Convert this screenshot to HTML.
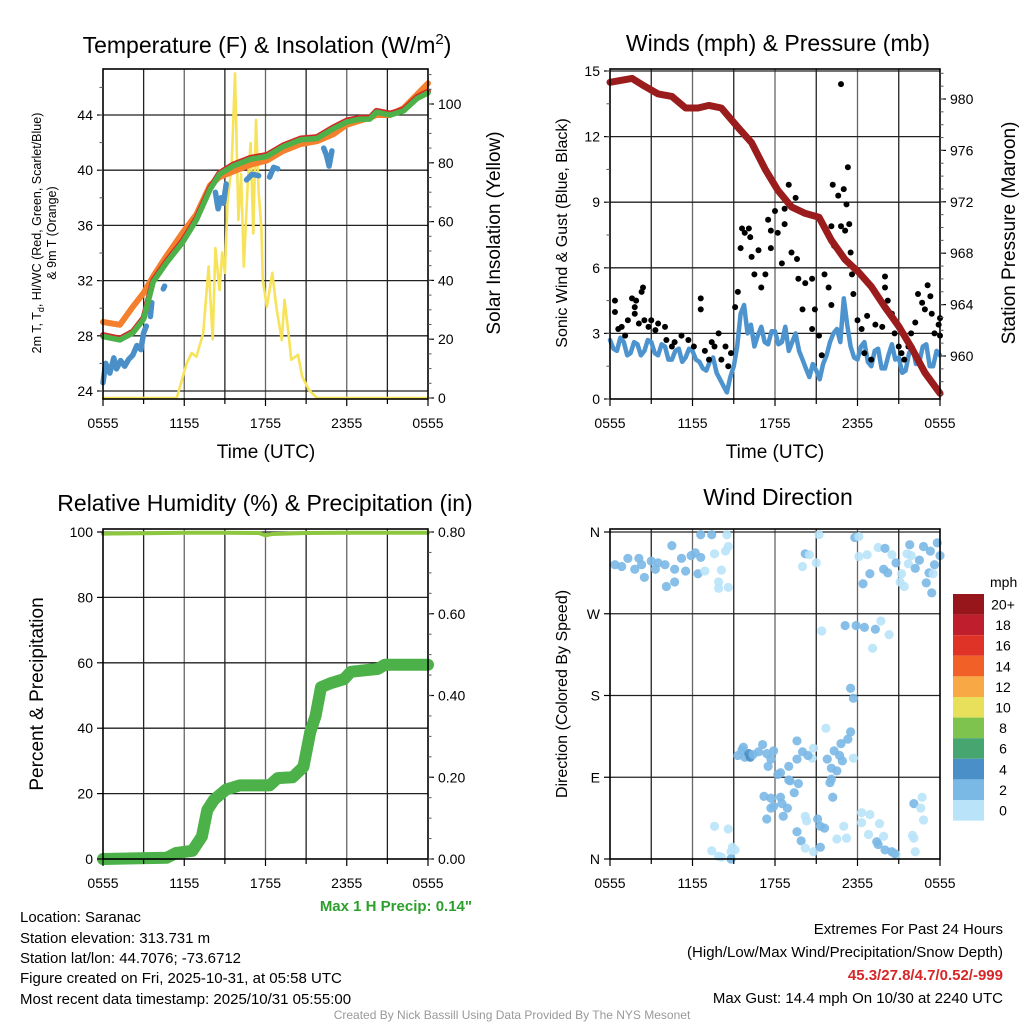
<!DOCTYPE html>
<html><head><meta charset="utf-8">
<style>
html,body{margin:0;padding:0;background:#fff;}
svg{display:block;font-family:"Liberation Sans",Arial,sans-serif;}
</style></head>
<body>
<svg id="c" width="1024" height="1024" viewBox="0 0 1024 1024">
<g id="grid"></g><g id="marks"></g><g id="axes"></g>
<g id="texts" font-family="Liberation Sans, Arial, sans-serif">
<text x="267" y="53" font-size="23" text-anchor="middle">Temperature (F) &amp; Insolation (W/m<tspan dy="-9" font-size="15">2</tspan><tspan dy="9">)</tspan></text>
<text x="778" y="51" font-size="23" text-anchor="middle">Winds (mph) &amp; Pressure (mb)</text>
<text x="265" y="511" font-size="23" text-anchor="middle">Relative Humidity (%) &amp; Precipitation (in)</text>
<text x="778" y="505" font-size="23" text-anchor="middle">Wind Direction</text>
<text x="266" y="458" font-size="19" text-anchor="middle">Time (UTC)</text>
<text x="775" y="458" font-size="19" text-anchor="middle">Time (UTC)</text>
<text transform="translate(41,233) rotate(-90)" font-size="12.5" text-anchor="middle">2m T, T<tspan dy="3" font-size="9">d</tspan><tspan dy="-3">, HI/WC (Red, Green, Scarlet/Blue)</tspan></text>
<text transform="translate(56,233) rotate(-90)" font-size="12.5" text-anchor="middle">&amp; 9m T (Orange)</text>
<text transform="translate(500,233) rotate(-90)" font-size="19" text-anchor="middle">Solar Insolation (Yellow)</text>
<text transform="translate(567,233) rotate(-90)" font-size="16" text-anchor="middle">Sonic Wind &amp; Gust (Blue, Black)</text>
<text transform="translate(1015,233) rotate(-90)" font-size="19" text-anchor="middle">Station Pressure (Maroon)</text>
<text transform="translate(43,694) rotate(-90)" font-size="19" text-anchor="middle">Percent &amp; Precipitation</text>
<text transform="translate(567,694) rotate(-90)" font-size="16" text-anchor="middle">Direction (Colored By Speed)</text>
<text x="472" y="911" font-size="15" font-weight="bold" fill="#2ca02c" text-anchor="end">Max 1 H Precip: 0.14"</text>
<g font-size="15">
<text x="20" y="922">Location: Saranac</text>
<text x="20" y="943">Station elevation: 313.731 m</text>
<text x="20" y="963">Station lat/lon: 44.7076; -73.6712</text>
<text x="20" y="983">Figure created on Fri, 2025-10-31, at 05:58 UTC</text>
<text x="20" y="1004">Most recent data timestamp: 2025/10/31 05:55:00</text>
</g>
<g font-size="15" text-anchor="end">
<text x="1003" y="934">Extremes For Past 24 Hours</text>
<text x="1003" y="957">(High/Low/Max Wind/Precipitation/Snow Depth)</text>
<text x="1003" y="980" font-weight="bold" fill="#d62728">45.3/27.8/4.7/0.52/-999</text>
<text x="1003" y="1003">Max Gust: 14.4 mph On 10/30 at 2240 UTC</text>
</g>
<text x="512" y="1019" font-size="12" fill="#999" text-anchor="middle">Created By Nick Bassill Using Data Provided By The NYS Mesonet</text>
</g>
</svg>
<script>
// ---------- DATA ----------
const xTickLabels = ["0555","1155","1755","2355","0555"];
// Temperature panel
const tempHours = [0,1.25,2.2,3.0,3.7,4.7,5.9,6.9,7.9,8.6,9.6,10.9,12.1,13.3,14.6,15.8,17.0,18.0,19.0,19.7,20.2,21.2,22.2,23.2,24];
const temp2m    = [27.95,27.7,28.2,29.2,31.9,33.3,34.8,36.4,38.6,39.7,40.3,40.8,41.0,41.7,42.2,42.3,43.0,43.5,43.7,43.7,44.2,44.0,44.3,45.2,45.6];
const temp9m    = [29.0,28.8,30.1,31.1,32.3,33.8,35.5,36.8,38.9,39.5,39.9,40.4,40.7,41.4,41.9,42.1,42.6,43.3,43.6,43.8,44.0,44.0,44.5,45.5,46.3];
const heatIndex = [28.05,27.8,28.3,29.3,32.0,33.4,34.9,36.5,38.7,39.8,40.4,40.9,41.1,41.8,42.3,42.4,43.1,43.6,43.8,43.8,44.3,44.1,44.4,45.3,45.7];
const dewHours  = [0,0.2,0.5,0.8,1.0,1.3,1.6,1.9,2.2,2.5,2.8,3.0,3.2,null,3.5,3.6,null,4.45,4.55,null,8.3,8.5,8.7,8.9,9.1,null,10.6,11.0,11.5,null,12.3,12.6,12.9,null,16.3,16.5,16.7,16.9];
const dewPoint  = [24.6,26.0,25.3,26.4,25.6,26.2,25.8,26.3,26.6,27.3,27.0,28.2,28.7,null,29.4,30.4,null,31.4,31.6,null,38.4,37.2,38.0,37.6,39.0,null,39.3,39.7,39.6,null,39.5,40.2,40.1,null,41.6,41.1,40.3,41.4];
const solarHours = [0,5.44,6.18,6.55,6.9,7.4,7.8,8.1,8.3,8.6,8.8,9.0,9.2,9.5,9.75,10.0,10.2,10.4,10.7,10.9,11.1,11.3,11.5,11.7,11.8,12.1,12.5,12.8,13.2,13.4,13.7,13.9,14.4,14.7,15.2,15.8,24];
const solarWm2   = [0,0,11.8,15.3,14,22,44.7,20,51,36.7,49.5,42.6,67.3,78.7,110.4,60.5,76.2,44.7,74,86.7,56,94.6,69.6,58,40,31,42.6,31,19.7,33.4,22,13,14.7,7.4,2.8,0,0];
const tempTicks = [24,28,32,36,40,44];
const solarTicks = [0,20,40,60,80,100];
// Winds panel
const windHours = [0,0.25,0.5,0.75,1,1.25,1.5,1.75,2,2.25,2.5,2.75,3,3.25,3.5,3.75,4,4.25,4.5,4.75,5,5.25,5.5,5.75,6,6.25,6.5,6.75,7,7.25,7.5,7.75,8,8.25,8.5,8.75,9,9.25,9.5,9.75,10,10.25,10.5,10.75,11,11.25,11.5,11.75,12,12.25,12.5,12.75,13,13.25,13.5,13.75,14,14.25,14.5,14.75,15,15.25,15.5,15.75,16,16.25,16.5,16.75,17,17.25,17.5,17.75,18,18.25,18.5,18.75,19,19.25,19.5,19.75,20,20.25,20.5,20.75,21,21.25,21.5,21.75,22,22.25,22.5,22.75,23,23.25,23.5,23.75,24];
const windSpeed = [2.7,2.3,2.2,2.8,2.6,2.0,2.1,2.6,2.5,2.0,2.2,2.7,2.6,2.1,2.0,2.5,2.4,1.8,1.8,2.2,2.3,1.7,1.9,2.3,2.2,1.8,1.7,1.4,1.3,1.7,1.9,1.2,0.9,0.6,0.3,1.0,1.5,2.4,3.9,4.3,3.0,3.4,2.4,2.9,3.3,2.6,2.5,3.1,3.1,2.5,2.6,3.3,2.2,2.6,3.0,2.2,1.8,1.4,1.0,1.6,1.3,0.9,1.6,2.0,2.6,3.0,3.2,2.6,4.6,3.4,2.4,1.9,1.8,2.4,2.6,1.7,1.5,2.2,2.3,1.4,1.4,2.0,2.5,1.8,1.9,1.2,1.3,2.1,2.4,1.6,1.7,2.4,2.5,1.5,1.5,2.2,2.0];
const gustHours = [0.36,0.36,0.6,0.85,1.1,1.3,1.6,1.8,1.9,1.8,2.1,2.3,2.4,2.5,2.8,3.0,3.3,3.5,4.0,4.1,4.5,4.7,5.2,5.7,6.1,6.6,6.6,6.9,7.2,7.4,7.6,7.9,8.1,8.4,8.6,8.8,9.1,9.3,9.5,9.6,9.8,10.1,10.2,10.3,10.5,10.8,11.0,11.3,11.5,11.7,11.7,12.0,12.2,12.5,12.7,12.7,13.0,13.5,13.2,13.6,13.7,14.2,14.0,14.7,14.7,14.9,15.2,15.4,15.6,15.9,16.1,16.1,16.2,16.3,16.6,16.8,16.8,17.0,17.1,17.2,17.3,17.4,17.5,17.6,17.7,18.0,18.3,18.5,18.7,19.0,19.3,19.8,20.0,20.0,20.2,20.5,20.7,21.0,21.2,21.4,21.7,21.9,22.2,22.4,22.7,22.9,23.1,23.3,23.4,23.6,23.9,24.0,24.0];
const gustSpeed = [4.5,3.98,3.2,3.3,2.9,3.6,4.6,4.2,4.5,3.9,3.45,4.9,5.1,3.6,3.3,3.6,3.15,3.45,3.3,2.7,2.4,2.6,2.9,2.7,2.4,4.6,4.1,2.2,1.8,2.6,2.4,3.0,1.8,2.4,1.5,2.1,4.2,4.9,6.9,7.8,7.6,7.8,7.4,6.5,5.7,6.8,5.1,5.7,8.2,7.7,6.9,8.6,7.6,6.2,8.0,8.7,9.8,9.2,6.7,6.4,5.5,5.3,4.1,5.5,3.2,4.1,2.9,2.0,5.7,5.1,4.3,7.9,9.8,7.0,9.3,14.4,7.9,9.6,7.7,8.9,10.6,8.0,6.7,5.7,4.8,3.6,3.2,2.1,3.8,1.8,3.4,3.3,5.6,5.1,4.5,3.9,3.0,2.4,2.1,1.8,2.4,3.0,3.5,4.8,4.4,4.1,5.2,4.7,3.9,3.0,3.4,2.9,3.7];
const presHours = [0,1.6,2.5,3.5,4.5,5.5,6.4,7.2,8.1,9.3,10.3,11.3,12.2,13.2,14.2,15.2,16.1,17.1,18.1,19.0,20.0,21.0,21.9,22.9,24];
const presMb    = [981.3,981.6,981.0,980.4,980.2,979.3,979.3,979.5,979.3,977.8,976.6,974.5,972.9,971.6,971.1,970.8,969.0,967.5,966.5,965.4,963.8,962.3,960.7,958.7,957.1];
const windTicks = [0,3,6,9,12,15];
const presTicks = [960,964,968,972,976,980];
// Humidity / precip panel
const rhHours = [0,3,6,9,11.5,12,12.5,15,18,21,24];
const rhPct   = [99.5,99.6,99.8,99.8,99.7,99.0,99.4,99.7,99.8,99.8,99.8];
const pcpHours = [0,4.7,5.4,6.6,7.3,7.7,8.2,9.1,10.1,12.3,12.9,14.0,14.8,15.3,15.7,16.1,16.8,17.8,18.3,20.3,20.8,24];
const pcpInch  = [0,0.003,0.015,0.02,0.055,0.12,0.145,0.17,0.18,0.18,0.198,0.2,0.225,0.31,0.35,0.42,0.43,0.44,0.458,0.465,0.475,0.475];
const rhTicks = [0,20,40,60,80,100];
const pcpTicks = [0,0.2,0.4,0.6,0.8];
const pcpTickLabels = ["0.00","0.20","0.40","0.60","0.80"];
// Wind direction panel
const dirHours = [0.36,0.85,1.3,1.8,2.1,2.3,2.5,3.0,3.3,3.5,4.0,4.1,4.5,4.7,4.7,5.2,5.5,5.9,6.2,6.4,6.6,6.6,6.9,7.4,7.6,7.9,7.9,8.1,8.4,8.5,8.6,8.6,14.2,14.0,14.5,15.2,15.0,15.4,17.1,17.8,17.9,18.1,18.1,18.4,18.5,18.7,18.9,19.3,19.5,19.7,19.9,20.0,20.2,20.5,20.8,21.1,21.2,21.4,21.6,21.7,21.8,21.9,22.2,22.5,22.8,23.0,23.2,23.3,23.4,23.5,23.6,23.8,24.0,20.3,19.1,17.5,17.7,17.5,17.3,16.8,16.7,16.9,16.3,15.8,16.1,16.5,16.0,16.1,16.2,17.7,15.7,14.8,13.6,14.7,14.4,14.0,13.6,9.3,9.6,9.8,10.1,9.7,10.2,10.4,10.8,11.1,11.4,11.5,11.7,11.9,12.2,12.4,13.0,13.0,13.7,13.1,13.4,12.4,11.9,11.4,11.7,11.2,11.7,12.9,12.5,12.6,13.6,13.9,14.2,14.2,14.3,14.8,15.1,15.3,15.6,15.3,16.5,17.0,17.2,18.3,18.9,18.8,19.4,19.5,19.6,19.9,20.0,20.5,20.8,20.7,22.0,22.1,22.2,22.1,22.6,22.7,22.8,18.3,9.1,8.8,8.9,8.6,7.9,7.4,8.1,8.8,7.6,8.2,10.7];
const dirDeg   = [324,322,331,319,331,324,310,328,319,326,324,300,345,319,305,331,317,334,337,314,332,357,317,357,336,305,298,318,339,357,299,344,336,322,335,357,326,251,257,354,257,355,333,303,255,335,314,253,343,262,319,342,315,335,326,305,314,300,336,325,346,334,320,329,344,304,315,339,293,314,324,348,334,247,232,188,177,140,132,127,114,108,119,110,100,97,84,88,68,111,144,122,130,111,114,118,110,114,120,112,116,123,112,115,118,126,116,102,110,119,93,95,87,102,83,86,73,68,58,44,56,69,67,56,61,47,30,20,12,47,42,8,44,36,34,13,22,36,23,51,49,27,19,16,39,25,10,8,5,6,26,23,8,61,56,68,43,40,10,8,13,33,3,9,2,0,36];
const dirSpeed = [2.6,2.6,2.6,2.6,2.6,2.6,2.6,2.6,2.6,2.6,2.6,3.6,2.6,3.6,2.6,2.6,2.6,2.6,2.6,2.6,2.6,2.6,1.2,2.6,1.2,1.2,1.2,1.2,1.2,1.2,1.2,1.2,2.6,1.2,1.2,1.2,1.2,1.2,2.6,2.6,2.6,1.2,1.2,2.6,2.6,1.2,2.6,2.6,1.2,1.2,2.6,2.6,2.6,1.2,2.6,1.2,1.2,1.2,1.2,1.2,2.6,1.2,2.6,2.6,2.6,2.6,2.6,3.6,2.6,1.2,2.6,3.6,2.6,1.2,1.2,2.6,2.6,2.6,2.6,3.6,3.6,3.6,2.6,3.6,2.6,2.6,2.6,2.6,2.6,1.2,1.2,1.2,2.6,1.2,2.6,2.6,2.6,3.6,3.6,3.6,4.3,3.6,4.3,2.6,2.6,2.6,2.6,2.6,2.6,2.6,2.6,2.6,2.6,2.6,2.6,2.6,2.6,2.6,2.6,2.6,2.6,2.6,2.6,2.6,2.6,2.6,2.6,2.6,1.2,1.2,1.2,1.2,2.6,3.6,2.6,2.6,1.2,1.2,1.2,1.2,1.2,1.2,2.6,2.6,1.2,1.2,2.6,2.6,1.2,2.6,1.2,1.2,1.2,2.6,1.2,1.2,1.2,1.2,1.2,1.2,1.2,1.2,1.2,1.2,1.2,2.6,1.2,1.2,1.2,1.2,1.2,1.2];
const dirLabels = ["N","E","S","W","N"];
const dirTicks = [0,90,180,270,360];
const cbLabels = ["20+","18","16","14","12","10","8","6","4","2","0"];
const cbColors = ["#96161c","#bf1e2d","#e03327","#f16127","#f8a844","#e8e05a","#7ec34d","#47a66f","#4a8fc7","#7ab8e5","#b9e3f8"];

// ---------- RENDER ----------
const NS = "http://www.w3.org/2000/svg";
const gGrid = document.getElementById('grid'), gMarks = document.getElementById('marks'), gAxes = document.getElementById('axes');
function mk(tag, attrs, parent){ const e=document.createElementNS(NS,tag); for(const k in attrs) e.setAttribute(k,attrs[k]); parent.appendChild(e); return e; }
function scale(d0,d1,r0,r1){ return v => r0 + (v-d0)*(r1-r0)/(d1-d0); }

const P = {
  temp:{x0:103,x1:428,y0:69,y1:399},
  wind:{x0:610,x1:940,y0:69,y1:399},
  rh:{x0:103,x1:428,y0:529,y1:859},
  dir:{x0:610,x1:940,y0:529,y1:859}
};
const sx = {}; for (const k in P) sx[k] = scale(0,24,P[k].x0,P[k].x1);
const yT = scale(24,44,391,115), yW = scale(0,100,398,104);
const yV = scale(0,15,399,71), yP = scale(960,980,356,99);
const yR = scale(0,100,859,532), yPc = scale(0,0.8,859,532);
const yD = scale(0,360,859,532);

function frame(key, hTicksPix, name){
  const p=P[key];
  for(let i=1;i<8;i++){ const x=sx[key](i*3);
    const l=mk('line',{x1:x,x2:x,y1:p.y0,y2:p.y1,stroke:(i%2? '#222':'#666'),'stroke-width':1.3},gGrid);
    
    
  }
  hTicksPix.forEach(y=>{ if(y>p.y0+1 && y<p.y1-1){ const l=mk('line',{x1:p.x0,x2:p.x1,y1:y,y2:y,stroke:'#222','stroke-width':1.3},gGrid);
    
     }});
  const r=mk('rect',{x:p.x0,y:p.y0,width:p.x1-p.x0,height:p.y1-p.y0,fill:'none',stroke:'#000','stroke-width':1.6},gAxes);
  
  
  for(let i=0;i<=8;i++){ const x=sx[key](i*3);
    mk('line',{x1:x,x2:x,y1:p.y1,y2:p.y1+(i%2?5:7),stroke:'#000','stroke-width':1.2},gAxes); }
  xTickLabels.forEach((t,i)=>{ const tx=mk('text',{x:sx[key](i*6),y:p.y1+29,'font-size':14,'text-anchor':'middle'},gAxes); tx.textContent=t;
    
     });
}
function yAxis(key, side, ticks, labels, sc, minorStep, minorRange, name){
  const p=P[key]; const x = side==='l'?p.x0:p.x1; const dir = side==='l'?-1:1;
  ticks.forEach((v,i)=>{ const y=sc(v);
    mk('line',{x1:x,x2:x+dir*6,y1:y,y2:y,stroke:'#000','stroke-width':1.2},gAxes);
    const t=mk('text',{x:x+dir*10,y:y+5,'font-size':14,'text-anchor':side==='l'?'end':'start'},gAxes);
    t.textContent = labels[i];
    
    
  });
  if(minorStep){ for(let v=minorRange[0]; v<=minorRange[1]+1e-9; v+=minorStep){ const y=sc(v); if(y<p.y0||y>p.y1) continue;
    mk('line',{x1:x,x2:x+dir*3.5,y1:y,y2:y,stroke:'#555','stroke-width':1},gAxes);} }
}
function line(xs, ys, xsc, ysc, attrs, name){
  let d='', pen=false;
  const n=Math.min(xs.length, ys.length);
  for(let i=0;i<n;i++){ const h=xs[i], v=ys[i]; if(h===null||v===null){pen=false;continue;}
    d += (pen?'L':'M') + xsc(h).toFixed(1)+','+ysc(v).toFixed(1); pen=true; }
  const a = Object.assign({d:d,fill:'none','stroke-linejoin':'round','stroke-linecap':'round'},attrs);
  const e = mk('path',a,gMarks);
  
  
  return e;
}

// Panel 1
frame('temp', tempTicks.map(yT), 'temp');
yAxis('temp','l',tempTicks,tempTicks.map(String),yT,2,[22,48],'temp-y');
yAxis('temp','r',solarTicks,solarTicks.map(String),yW,5,[0,110],'solar-y');
line(solarHours,solarWm2,sx.temp,yW,{stroke:'#f7e35a','stroke-width':2.6},'solar-insolation-line');
line(dewHours,dewPoint,sx.temp,yT,{stroke:'#4a8fc7','stroke-width':5.5},'dewpoint-line');
line(tempHours,temp9m,sx.temp,yT,{stroke:'#f47f2c','stroke-width':6},'temp-9m-line');
line(tempHours,heatIndex,sx.temp,yT,{stroke:'#d62728','stroke-width':6},'heat-index-line');
line(tempHours,temp2m,sx.temp,yT,{stroke:'#4bb148','stroke-width':5.5},'temp-2m-line');

// Panel 2
frame('wind', windTicks.map(yV), 'wind');
yAxis('wind','l',windTicks,windTicks.map(String),yV,1.5,[0,15],'wind-y');
yAxis('wind','r',presTicks,presTicks.map(String),yP,1,[957,982],'pressure-y');
line(windHours,windSpeed,sx.wind,yV,{stroke:'#4d94cf','stroke-width':4.5},'sonic-wind-line');
const nG = Math.min(gustHours.length, gustSpeed.length);
for(let i=0;i<nG;i++){ const c=mk('circle',{cx:sx.wind(gustHours[i]),cy:yV(gustSpeed[i]),r:3,fill:'#000'},gMarks);
  
   }
line(presHours,presMb,sx.wind,yP,{stroke:'#9b1c1c','stroke-width':7},'pressure-line');

// Panel 3
frame('rh', rhTicks.map(yR), 'rh');
yAxis('rh','l',rhTicks,rhTicks.map(String),yR,null,null,'rh-y');
yAxis('rh','r',pcpTicks,pcpTickLabels,yPc,0.05,[0,0.85],'precip-y');
line(rhHours,rhPct,sx.rh,yR,{stroke:'#8dc63f','stroke-width':4},'relative-humidity-line');
line(pcpHours,pcpInch,sx.rh,yPc,{stroke:'#4bb148','stroke-width':12},'precipitation-line');

// Panel 4
frame('dir', dirTicks.map(yD), 'dir');
yAxis('dir','l',dirTicks,dirLabels,yD,null,null,'direction-y');
function spdColor(s){ const idx = Math.max(0,Math.min(10, Math.floor(s/2))); return cbColors[10-idx]; }
const nD = Math.min(dirHours.length, dirDeg.length, dirSpeed.length);
for(let i=0;i<nD;i++){ const c=mk('circle',{cx:sx.dir(dirHours[i]),cy:yD(dirDeg[i]),r:4.6,fill:spdColor(dirSpeed[i]),'fill-opacity':0.9},gMarks);
  
   }
// colorbar
const cb = mk('g',{},gAxes);


const cbt = mk('text',{x:990,y:587,'font-size':14},cb); cbt.textContent='mph';
cbLabels.forEach((l,i)=>{ const y=594+i*20.6;
  mk('rect',{x:953,y:y,width:31,height:20.6,fill:cbColors[i]},cb);
  const t=mk('text',{x:1003,y:y+15.5,'font-size':14,'text-anchor':'middle'},cb); t.textContent=l; });
</script>
</body></html>
